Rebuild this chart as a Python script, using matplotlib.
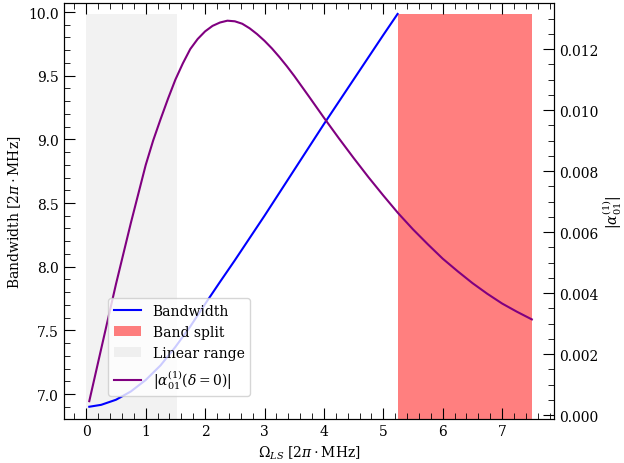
import numpy as np
import matplotlib
matplotlib.use("Agg")
import matplotlib.pyplot as plt

plt.rcParams["font.family"] = ["DejaVu Serif"]
plt.rcParams["mathtext.fontset"] = "dejavuserif"
plt.rcParams["font.size"] = 10

# ---------------------------------------------------------------------------
# Data
# ---------------------------------------------------------------------------
bw_x = [0.05, 0.25, 0.5, 0.75, 1.0, 1.25, 1.5, 1.75, 2.0, 2.25, 2.5,
        3.0, 3.5, 4.0, 4.5, 5.0, 5.24]
bw_y = [6.90, 6.915, 6.955, 7.02, 7.11, 7.225, 7.37, 7.53, 7.707, 7.88, 8.05,
        8.40, 8.76, 9.12, 9.47, 9.82, 9.985]

alpha_x = [0.05, 0.25, 0.5, 0.75, 1.0, 1.125, 1.25, 1.375, 1.5, 1.625, 1.75,
           1.875, 2.0, 2.125, 2.25, 2.375, 2.5, 2.625, 2.75, 2.875, 3.0,
           3.125, 3.25, 3.375, 3.5, 3.75, 4.0, 4.25, 4.5, 4.75, 5.0, 5.25,
           5.5, 5.75, 6.0, 6.25, 6.5, 6.75, 7.0, 7.25, 7.5]
alpha_y = [0.00046, 0.00217, 0.0043, 0.0063, 0.0082, 0.0090, 0.0097, 0.01037,
           0.0110, 0.01153, 0.0120, 0.01233, 0.01258, 0.01276, 0.01287,
           0.01293, 0.01291, 0.01283, 0.01268, 0.01249, 0.01227, 0.01202,
           0.01174, 0.01144, 0.01112, 0.01044, 0.00975, 0.00908, 0.00843,
           0.00780, 0.00720, 0.00662, 0.00609, 0.00560, 0.00513, 0.00472,
           0.00433, 0.00398, 0.00366, 0.00339, 0.00314]

linear_range = (0.0, 1.525)
band_split = (5.24, 7.5)
span_top = 9.985

# ---------------------------------------------------------------------------
# Plot
# ---------------------------------------------------------------------------
fig = plt.figure(figsize=(6.24, 4.64), dpi=100)
ax = fig.add_axes([0.1026, 0.0938, 0.7854, 0.8976])
ax2 = ax.twinx()

ylo, yhi = 6.80, 10.071
ax.fill_between(band_split, ylo, span_top, color="red", alpha=0.5, linewidth=0,
                label="Band split")
ax.fill_between(linear_range, ylo, span_top, color="gray", alpha=0.1, linewidth=0,
                label="Linear range")
l1, = ax.plot(bw_x, bw_y, color="blue", linewidth=1.5, label="Bandwidth")
l2, = ax2.plot(alpha_x, alpha_y, color="purple", linewidth=1.5,
               label=r"$|\alpha_{01}^{(1)}(\delta=0)|$")

ax.set_xlim(-0.375, 7.875)
ax.set_ylim(ylo, yhi)
ax2.set_ylim(-0.00014, 0.01351)

ax.set_xlabel(r"$\Omega_{LS}$ [$2\pi \cdot$MHz]")
ax.set_ylabel(r"Bandwidth [$2\pi \cdot$MHz]")
ax2.set_ylabel(r"$|\alpha_{01}^{(1)}|$", labelpad=1)

ax.minorticks_on()
ax2.minorticks_on()
ax.tick_params(which="both", direction="in", top=True, right=False)
ax.tick_params(which="major", length=8)
ax.tick_params(which="minor", length=4)
ax2.tick_params(which="both", direction="in")
ax2.tick_params(which="major", length=8)
ax2.tick_params(which="minor", length=4)
ax.xaxis.set_ticks([0, 1, 2, 3, 4, 5, 6, 7])

h, lab = ax.get_legend_handles_labels()
handles = [l1, h[0], h[1], l2]
labels = ["Bandwidth", "Band split", "Linear range",
          r"$|\alpha_{01}^{(1)}(\delta=0)|$"]
ax2.legend(handles, labels, loc="lower left", bbox_to_anchor=(0.09, 0.056),
           borderaxespad=0)

plt.savefig("out.png", dpi=100)
plt.close()
